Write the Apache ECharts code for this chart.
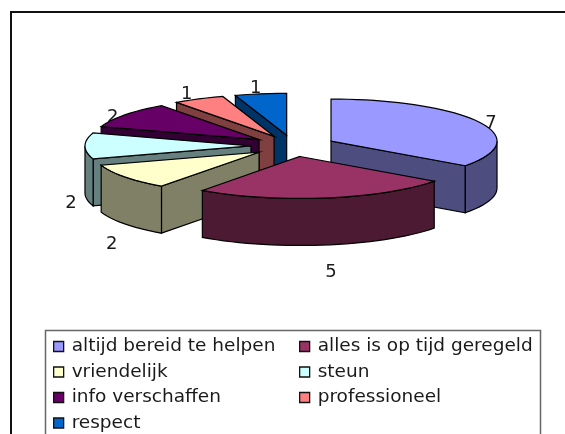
<!DOCTYPE html>
<html><head><meta charset="utf-8">
<style>html,body{margin:0;padding:0;background:#fff}#c{width:565px;height:434px}</style>
<script src="https://cdn.jsdelivr.net/npm/echarts@6/dist/echarts.min.js"></script>
</head><body><div id="c"></div>
<script>
const categories = ['altijd bereid te helpen','alles is op tijd geregeld','vriendelijk','steun','info verschaffen','professioneel','respect'];
const values = [7,5,2,2,2,1,1];
const topColors = ['#9999FF','#993366','#FFFFCC','#CCFFFF','#660066','#FF8080','#0066CC'];
const sideColors = ['#4D4D80','#4D1A33','#808066','#668080','#330033','#804040','#003366'];
const labelOffsets = [[12,1],[5,74],[-13,67],[-14,57],[-12,2],[-12,-5],[-5,-6]];
const FONT = 'DejaVu Sans';
const cx=293.3, cy=145.9, rx=166, ry=42, depth=47, explode=0.255;

const total = values.reduce((a,b)=>a+b,0);
const rad = d=>d*Math.PI/180;
let acc=0;
const slices = values.map((v,i)=>{const a=acc/total*360; acc+=v; return {i,a,b:acc/total*360,mid:(a+(acc/total*360))/2};});
function rim(ox,oy,ang){return [ox+rx*Math.sin(rad(ang)), oy-ry*Math.cos(rad(ang))];}
function arc(ox,oy,a,b){const n=Math.max(2,Math.ceil((b-a)/3));const p=[];for(let k=0;k<=n;k++)p.push(rim(ox,oy,a+(b-a)*k/n));return p;}
function apex(s){return [cx+explode*rx*Math.sin(rad(s.mid)), cy-explode*ry*Math.cos(rad(s.mid))];}
const down=p=>[p[0],p[1]+depth];
function renderSlice(s){
  return function(){
    const [ox,oy]=apex(s), st={stroke:'#000',lineWidth:1.2}, kids=[];
    const poly=(pts,fill)=>kids.push({type:'polygon',shape:{points:pts},style:Object.assign({fill},st)});
    const face=(ang,nrm)=>{ if(-Math.cos(rad(nrm))>0.01){const e=rim(ox,oy,ang);poly([[ox,oy],e,down(e),[ox,oy+depth]],sideColors[s.i]);} };
    face(s.a,s.a-90); face(s.b,s.b+90);
    const f=Math.max(s.a,90), t=Math.min(s.b,270);
    if(t>f){const top=arc(ox,oy,f,t);poly(top.concat(top.map(down).reverse()),sideColors[s.i]);}
    poly([[ox,oy]].concat(arc(ox,oy,s.a,s.b)),topColors[s.i]);
    return {type:'group',children:kids};
  };
}
function renderLabel(params){
  const s=slices[params.dataIndex], [ox,oy]=apex(s), r=rim(ox,oy,s.mid), d=labelOffsets[s.i];
  return {type:'text',x:r[0]+d[0],y:r[1]+d[1],style:{text:String(values[s.i]),fill:'#1a1a1a',fontFamily:FONT,fontSize:18,align:'center',verticalAlign:'middle'}};
}
const order=slices.map(s=>s).sort((p,q)=>(-Math.cos(rad(p.mid)))-(-Math.cos(rad(q.mid))));
const series=[{type:'custom',name:'labels',coordinateSystem:'none',z:1,silent:true,data:values.map(v=>[v]),renderItem:renderLabel,animation:false}];
order.forEach((s,k)=>series.push({type:'custom',name:categories[s.i],coordinateSystem:'none',z:2+k,data:[[values[s.i]]],
  renderItem:renderSlice(s),itemStyle:{color:topColors[s.i]},animation:false}));
const leg=(names,left)=>({orient:'vertical',left,top:337,height:130,itemWidth:10,itemHeight:10,itemGap:6.5,icon:'rect',data:names,selectedMode:false,padding:0,
  itemStyle:{borderColor:'#111',borderWidth:1.3},textStyle:{fontFamily:FONT,fontSize:18.5,color:'#1a1a1a',padding:[0,0,0,3],height:17.5,lineHeight:17.5}});
const col1=categories.filter((_,i)=>i%2===0), col2=categories.filter((_,i)=>i%2===1);
const chart=echarts.init(document.getElementById('c'),null,{renderer:'canvas'});
chart.setOption({animation:false,backgroundColor:'#fff',
  legend:[leg(col1,53),leg(col2,299)],
  graphic:[
   {type:'polyline',z:0,shape:{points:[[11,434],[11,12],[565,12]]},style:{fill:null,stroke:'#111',lineWidth:2}},
   {type:'rect',z:0,shape:{x:45.5,y:330.5,width:495,height:112},style:{fill:'#fff',stroke:'#666',lineWidth:1.5}}
  ],
  series});
</script></body></html>
